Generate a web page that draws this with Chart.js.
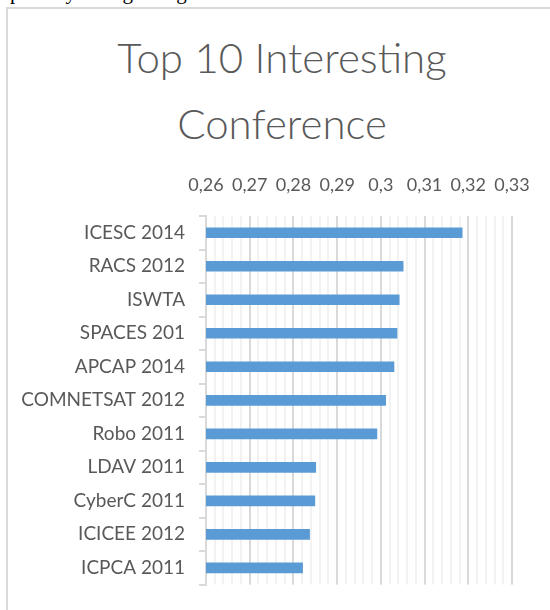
<!DOCTYPE html>
<html lang="en">
<head>
    <meta charset="UTF-8">
    <title>Top 10 Interesting Conference</title>
    <script src="https://cdn.jsdelivr.net/npm/chart.js@4.4.1/dist/chart.umd.min.js"></script>
    <style>
        html, body { margin: 0; padding: 0; background: #fff; overflow: hidden; }
        body { width: 550px; height: 610px; position: relative; }
        .frame { position: absolute; left: 6px; top: 7px; width: 600px; height: 700px; border: 2px solid #d9d9d9; }
        .para { position: absolute; left: 10px; top: -20px; font: 21px "Liberation Serif", serif; color: #000; white-space: nowrap; }
        .title { position: absolute; left: 0; width: 564px; text-align: center; font-family: "Lato", sans-serif; font-weight: 300; font-size: 42px; line-height: 42px; color: #595959; }
        #wrap { position: absolute; left: 0; top: 150px; width: 550px; height: 460px; }
    </style>
</head>
<body>
    <div class="para">ple way to beginning students.</div>
    <div class="frame"></div>
    <div class="title" style="top: 36px;">Top 10 Interesting</div>
    <div class="title" style="top: 102px;">Conference</div>
    <div id="wrap"><canvas id="chart"></canvas></div>

    <script>
        // data
        const conferences = ['ICESC 2014', 'RACS 2012', 'ISWTA', 'SPACES 201', 'APCAP 2014',
            'COMNETSAT 2012', 'Robo 2011', 'LDAV 2011', 'CyberC 2011', 'ICICEE 2012', 'ICPCA 2011'];
        const scores = [0.3186, 0.3051, 0.3042, 0.3037, 0.3030, 0.3011, 0.2991, 0.2851, 0.2849, 0.2837, 0.2821];
        const axisMin = 0.26;
        const axisMax = 0.33;
        const majorStep = 0.01;
        const minorStep = 0.002;

        const grey = '#595959';
        const lineGrey = '#d9d9d9';

        const ctx = document.getElementById('chart').getContext('2d');
        new Chart(ctx, {
            type: 'bar',
            data: {
                labels: conferences,
                datasets: [{
                    data: scores,
                    backgroundColor: '#5b9bd5',
                    borderWidth: 0,
                    barThickness: 10
                }]
            },
            options: {
                indexAxis: 'y',
                responsive: true,
                maintainAspectRatio: false,
                animation: false,
                layout: { padding: { left: 0, right: 38, top: 0, bottom: 22 } },
                plugins: {
                    legend: { display: false },
                    tooltip: { enabled: false }
                },
                scales: {
                    x: {
                        position: 'top',
                        min: axisMin,
                        max: axisMax,
                        border: { display: false },
                        grid: { color: lineGrey, lineWidth: 2, drawTicks: false },
                        ticks: {
                            stepSize: majorStep,
                            autoSkip: false,
                            maxRotation: 0,
                            padding: 20,
                            color: grey,
                            font: { family: 'Lato', size: 18 },
                            callback: (v) => String(+v.toFixed(2)).replace('.', ',')
                        },
                        afterFit: (scale) => { scale.height = 66; }
                    },
                    x2: {
                        position: 'top',
                        min: axisMin,
                        max: axisMax,
                        border: { display: false },
                        grid: { color: '#f2f2f2', lineWidth: 2, drawTicks: false, z: -2 },
                        ticks: { display: false, stepSize: minorStep },
                        afterFit: (scale) => { scale.height = 0; }
                    },
                    y: {
                        border: { color: lineGrey, width: 2 },
                        grid: { color: lineGrey, lineWidth: 2, drawOnChartArea: false, tickLength: 7, offset: true },
                        ticks: {
                            padding: 14,
                            color: grey,
                            font: { family: 'Lato', size: 19 }
                        },
                        afterFit: (scale) => { scale.width = 206; }
                    }
                }
            }
        });
    </script>
</body>
</html>
